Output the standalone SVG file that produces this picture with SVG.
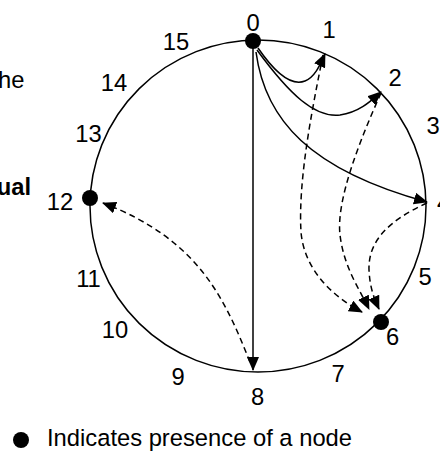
<svg xmlns="http://www.w3.org/2000/svg" width="440" height="452" viewBox="0 0 440 452">
<defs>
<marker id="ah" markerWidth="14" markerHeight="12" refX="13" refY="6" orient="auto" markerUnits="userSpaceOnUse">
<path d="M0,0 L14,6 L0,12 z" fill="#000"/>
</marker>
<style>
.lbl{font-family:"Liberation Sans",Arial,sans-serif;font-size:23.75px;fill:#000;text-anchor:middle}
.txt{font-family:"Liberation Sans",Arial,sans-serif;font-size:23.75px;fill:#000}
.ring{fill:none;stroke:#000;stroke-width:1.5}
.solid{fill:none;stroke:#000;stroke-width:1.5}
.dash{fill:none;stroke:#000;stroke-width:1.5;stroke-dasharray:6 4}
.dot{fill:#000}
</style>
</defs>
<rect width="440" height="452" fill="#fff"/>
<text class="txt" x="24.5" y="88" text-anchor="end">he</text>
<text class="txt" x="31" y="195" text-anchor="end" font-weight="bold">ual</text>
<ellipse class="ring" cx="258" cy="206" rx="168" ry="166"/>
<g id="connectors">
<path class="solid" d="M253,48 L253,370" marker-end="url(#ah)"/>
<path class="solid" d="M258,48 C280,80 295,85 305,81 C315,77 320,65 325,54" marker-end="url(#ah)"/>
<path class="solid" d="M257,50 C290,95 315,118 340,115 C360,112 372,100 381,92" marker-end="url(#ah)"/>
<path class="solid" d="M256,52 C265,120 310,170 427,202" marker-end="url(#ah)"/>
<path class="dash" d="M323,55 C312,110 298,180 301,232 C304,268 330,295 362,312" marker-end="url(#ah)"/>
<path class="dash" d="M381,93 C360,140 336,200 340,235 C344,268 360,290 369,309" marker-end="url(#ah)"/>
<path class="dash" d="M427,203 C390,220 368,240 369,270 C370,290 375,300 379,309" marker-end="url(#ah)"/>
<path class="dash" d="M250,362 C225,300 200,240 103,203" marker-end="url(#ah)"/>
</g>
<g id="node0"><circle class="dot" cx="253" cy="41" r="8"/></g>
<g id="node12"><circle class="dot" cx="90" cy="198" r="8"/></g>
<g id="node6"><circle class="dot" cx="381" cy="322" r="8"/></g>
<g id="labels">
<text class="lbl" x="253" y="31">0</text>
<text class="lbl" x="329" y="37.5">1</text>
<text class="lbl" x="395" y="86">2</text>
<text class="lbl" x="433" y="133.5">3</text>
<text class="lbl" x="443.5" y="211">4</text>
<text class="lbl" x="425" y="285">5</text>
<text class="lbl" x="392.5" y="345">6</text>
<text class="lbl" x="338" y="381.5">7</text>
<text class="lbl" x="257.5" y="405">8</text>
<text class="lbl" x="178" y="385">9</text>
<text class="lbl" x="115" y="338">10</text>
<text class="lbl" x="88.5" y="286.5">11</text>
<text class="lbl" x="60" y="210">12</text>
<text class="lbl" x="88.5" y="141.5">13</text>
<text class="lbl" x="114" y="90.5">14</text>
<text class="lbl" x="176" y="50">15</text>
</g>
<g id="legend">
<circle class="dot" cx="21" cy="440" r="8"/>
<text class="txt" x="47" y="446">Indicates presence of a node</text>
</g>
</svg>
